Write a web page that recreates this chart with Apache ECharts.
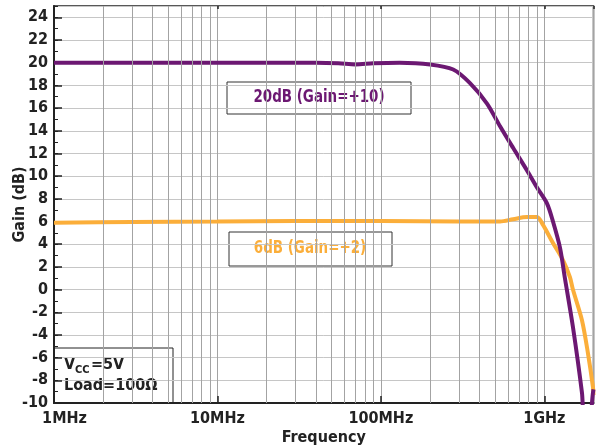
<!DOCTYPE html>
<html>
<head>
<meta charset="utf-8">
<script src="https://cdn.jsdelivr.net/npm/echarts@6/dist/echarts.min.js"></script>
<style>
  html, body { margin: 0; padding: 0; background: #fff; }
  #chart { width: 600px; height: 447px; }
</style>
</head>
<body>
<div id="chart"></div>
<script>
// Frequency response of the amplifier at two gain settings (frequency in MHz)
const gain20Freq = [1, 2, 5, 10, 20, 40, 55, 70, 90, 130, 200, 277, 351, 446, 536, 644, 784, 902, 1038, 1130, 1247, 1337, 1497, 1700, 1760, 1880, 1985, 2000];
const gain20dB   = [20.0, 20.0, 20.0, 20.0, 20.0, 20.0, 19.95, 19.85, 19.95, 20.0, 19.85, 19.4, 18.2, 16.4, 14.4, 12.5, 10.5, 9.0, 7.6, 6.0, 3.7, 1.0, -3.3, -9.1, -11.5, -11.5, -9.1, -8.8];

const gain6Freq = [1, 3, 10, 30, 100, 300, 536, 644, 784, 902, 982, 1130, 1301, 1435, 1497, 1700, 1849, 1985, 2000];
const gain6dB   = [5.9, 5.95, 6.0, 6.05, 6.05, 6.0, 6.0, 6.2, 6.4, 6.4, 5.7, 4.1, 2.6, 1.1, 0.0, -2.7, -5.6, -8.6, -9.3];

// Axis ticks and grid
const freqTickLabels = { 1: '1MHz', 10: '10MHz', 100: '100MHz', 1000: '1GHz' };
const minorFreqGrid = [2, 3, 4, 5, 6, 7, 8, 9, 20, 30, 40, 50, 60, 70, 80, 90, 200, 300, 400, 500, 600, 700, 800, 900];
const gainMin = -10, gainMax = 25, gainStep = 2, gainMinorStep = 1;

const FONT = "'DejaVu Sans Condensed',sans-serif";
const PURPLE = '#6c1872';
const ORANGE = '#fbae3a';
const INK = '#222';

const pairs = (xs, ys) => xs.map((x, i) => [x, ys[i]]);

const chart = echarts.init(document.getElementById('chart'), null, { renderer: 'canvas' });

chart.setOption({
  animation: false,
  backgroundColor: '#fff',
  grid: {
    left: 54, right: 6.5, top: 6, bottom: 44,
    containLabel: false, outerBoundsMode: 'none',
    show: true, borderColor: INK, borderWidth: 1.5, backgroundColor: 'transparent'
  },
  xAxis: [
    {
      type: 'log', logBase: 10, min: 1, max: 2000,
      name: 'Frequency', nameLocation: 'middle', nameGap: 27, nameMoveOverlap: false,
      nameTextStyle: { fontFamily: FONT, fontWeight: 'bold', fontSize: 16, color: INK },
      axisLine: { show: true, onZero: false, lineStyle: { color: INK, width: 2 } },
      axisTick: { show: true, inside: true, length: 7, lineStyle: { color: INK, width: 1.5 } },
      axisLabel: {
        margin: 8, color: INK, fontFamily: FONT, fontWeight: 'bold', fontSize: 16,
        showMaxLabel: false,
        formatter: v => {
          const key = Math.round(v);
          if (key === 1) return '{first|1MHz}';
          return freqTickLabels[key] || '';
        },
        rich: { first: { fontFamily: FONT, fontWeight: 'bold', fontSize: 16, color: INK, padding: [0, 0, 0, 21] } }
      },
      splitLine: { show: true, lineStyle: { color: '#a3a3a3', width: 1 } }
    },
    {
      // small ticks along the top edge
      type: 'log', logBase: 10, min: 1, max: 2000, position: 'top',
      axisLine: { show: false, onZero: false },
      axisTick: { show: true, inside: true, length: 3, lineStyle: { color: INK, width: 1.5 } },
      axisLabel: { show: false },
      splitLine: { show: false }
    }
  ],
  yAxis: [
    {
      type: 'value', min: gainMin, max: gainMax, interval: gainStep,
      name: 'Gain (dB)', nameLocation: 'middle', nameGap: 26, nameMoveOverlap: false,
      nameTextStyle: { fontFamily: FONT, fontWeight: 'bold', fontSize: 16, color: INK },
      axisLine: { show: true, onZero: false, lineStyle: { color: INK, width: 2 } },
      axisTick: { show: true, inside: true, length: 8, lineStyle: { color: INK, width: 1.5 } },
      axisLabel: {
        margin: 6, color: INK, fontFamily: FONT, fontWeight: 'bold', fontSize: 16,
        showMaxLabel: false,
        formatter: v => (v > 24 ? '' : String(v))
      },
      splitLine: { show: true, lineStyle: { color: '#c6c6c6', width: 1 } }
    },
    {
      // short inside ticks at every 1 dB
      type: 'value', min: gainMin, max: gainMax, interval: gainMinorStep,
      position: 'left', offset: 0,
      axisLine: { show: false, onZero: false },
      axisTick: { show: true, inside: true, length: 4, lineStyle: { color: INK, width: 1 } },
      axisLabel: { show: false },
      splitLine: { show: false }
    }
  ],
  series: [
    {
      name: 'grid',
      type: 'line',
      data: [],
      silent: true,
      z: 1,
      markLine: {
        silent: true, symbol: 'none', label: { show: false },
        lineStyle: { color: '#a3a3a3', width: 1, type: 'solid' },
        data: minorFreqGrid.map(f => ({ xAxis: f }))
      }
    },
    {
      name: '6dB (Gain=+2)',
      type: 'line',
      data: pairs(gain6Freq, gain6dB),
      showSymbol: false, smooth: 0.3, clip: true, z: 3,
      lineStyle: { color: ORANGE, width: 4 }
    },
    {
      name: '20dB (Gain=+10)',
      type: 'line',
      data: pairs(gain20Freq, gain20dB),
      showSymbol: false, smooth: 0.3, clip: true, z: 4,
      lineStyle: { color: PURPLE, width: 4 }
    }
  ],
  graphic: [
    {
      type: 'group', z: 100,
      children: [
        { type: 'rect', shape: { x: 227, y: 82, width: 184, height: 32 },
          style: { fill: '#fff', stroke: '#333', lineWidth: 1 } },
        { type: 'text', x: 319, y: 98, scaleX: 0.88,
          style: { text: '20dB (Gain=+10)', fill: PURPLE, font: 'bold 17px ' + FONT,
                   textAlign: 'center', textVerticalAlign: 'middle' } }
      ]
    },
    {
      type: 'group', z: 100,
      children: [
        { type: 'rect', shape: { x: 229, y: 232, width: 163, height: 34 },
          style: { fill: '#fff', stroke: '#333', lineWidth: 1 } },
        { type: 'text', x: 310, y: 249, scaleX: 0.88,
          style: { text: '6dB (Gain=+2)', fill: ORANGE, font: 'bold 17px ' + FONT,
                   textAlign: 'center', textVerticalAlign: 'middle' } }
      ]
    },
    {
      type: 'group', z: 100,
      children: [
        { type: 'rect', shape: { x: 54, y: 348, width: 119, height: 55 },
          style: { fill: '#fff', stroke: INK, lineWidth: 1 } },
        { type: 'text', x: 64, y: 365,
          style: { text: 'V', fill: INK, font: 'bold 16px ' + FONT, textVerticalAlign: 'middle' } },
        { type: 'text', x: 75, y: 370,
          style: { text: 'CC', fill: INK, font: 'bold 11px ' + FONT, textVerticalAlign: 'middle' } },
        { type: 'text', x: 91, y: 365,
          style: { text: '=5V', fill: INK, font: 'bold 16px ' + FONT, textVerticalAlign: 'middle' } },
        { type: 'text', x: 64, y: 386,
          style: { text: 'Load=100Ω', fill: INK, font: 'bold 16px ' + FONT, textVerticalAlign: 'middle' } }
      ]
    }
  ]
});
</script>
</body>
</html>
